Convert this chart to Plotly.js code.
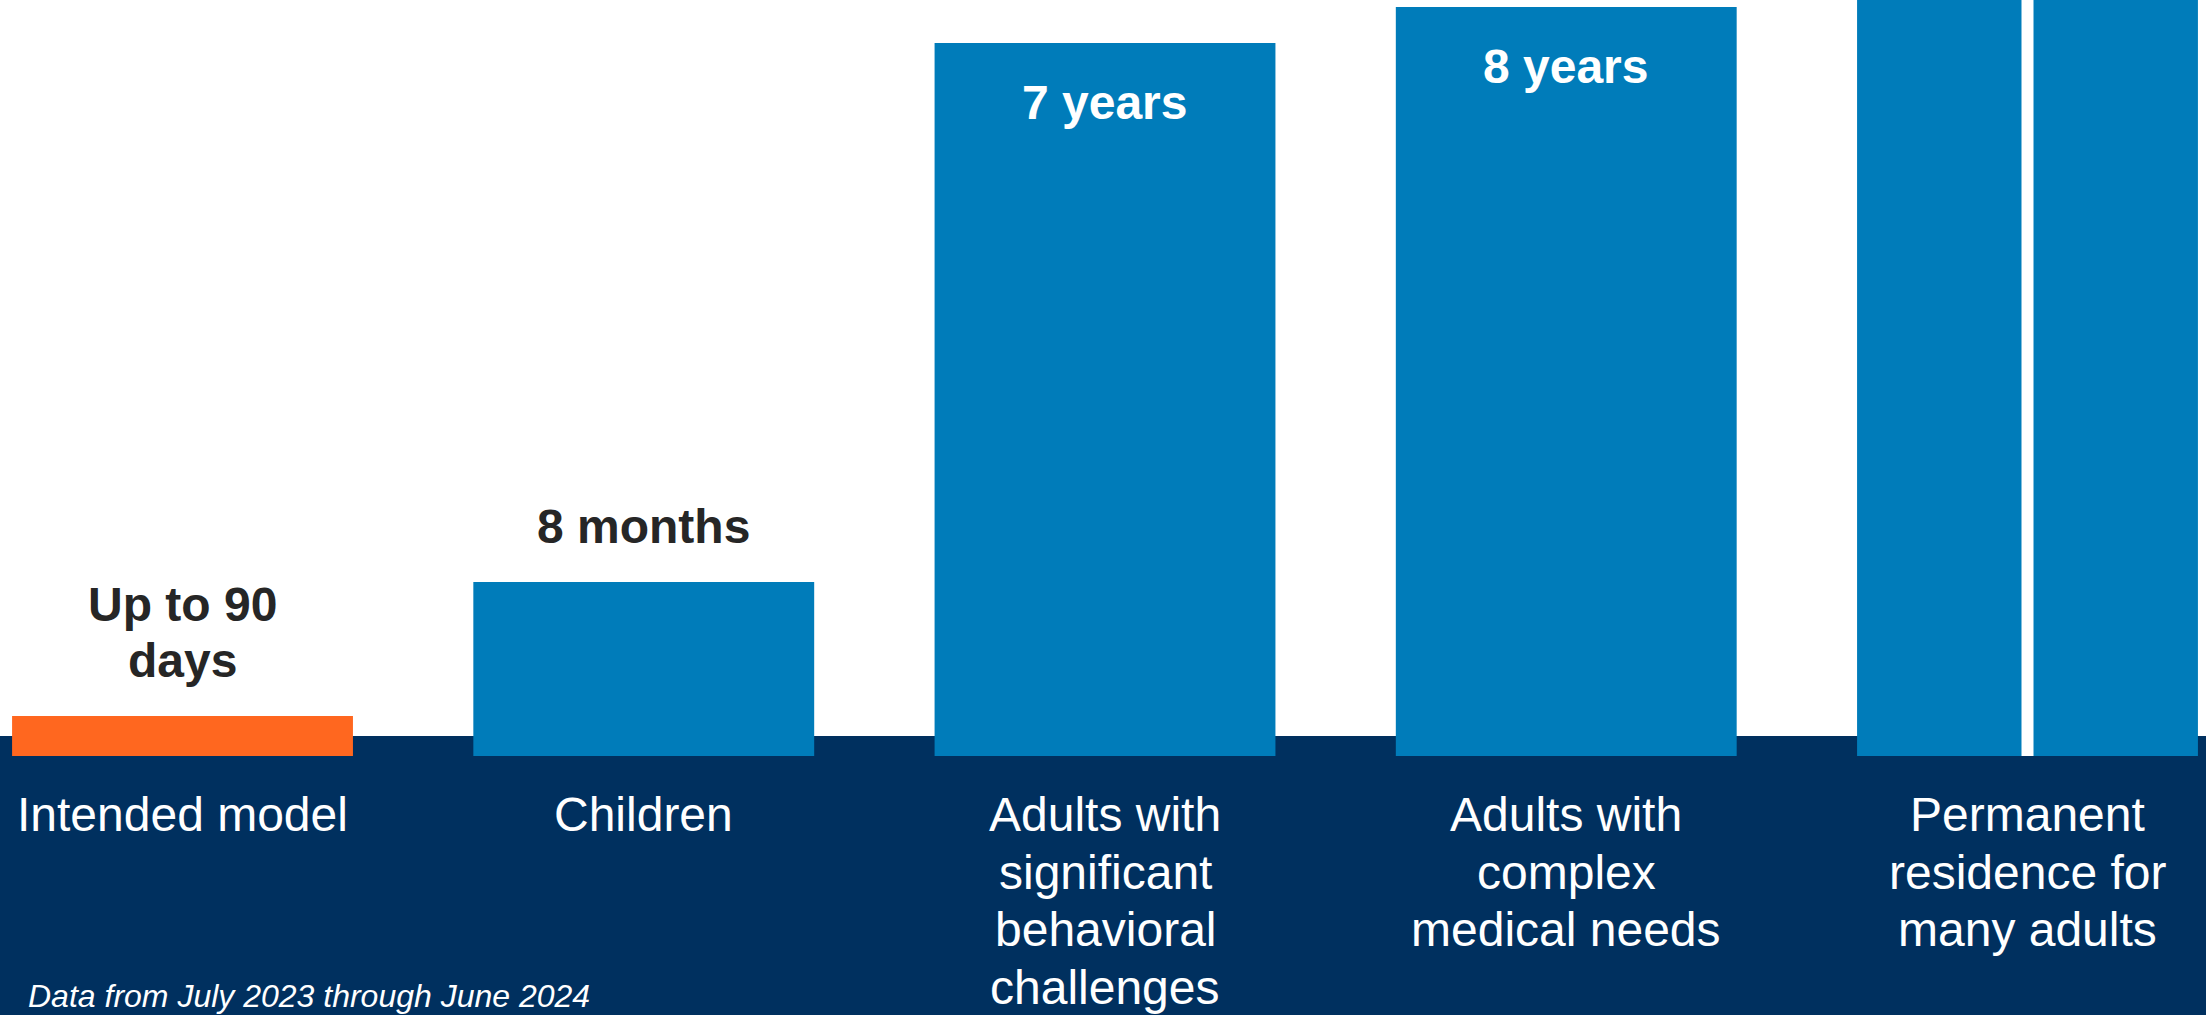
<!DOCTYPE html>
<html>
<head>
<meta charset="utf-8">
<script src="https://cdn.plot.ly/plotly-3.0.1.min.js"></script>
<style>
  html, body { margin: 0; padding: 0; background: #ffffff; }
  #chart { width: 2206px; height: 1015px; }
</style>
</head>
<body>
<div id="chart"></div>
<script>
// ---- data ----
const categories = [
  'Intended model',
  'Children',
  'Adults with<br>significant<br>behavioral<br>challenges',
  'Adults with<br>complex<br>medical needs',
  'Permanent<br>residence for<br>many adults'
];
// illustrative bar heights (the picture is not to scale; last bar runs off the top)
const barHeights = [40, 174, 713, 749, 800];
const valueLabels = ['Up to 90<br>days', '8 months', '7 years', '8 years', ''];
const labelInside = [false, false, true, true, false];
const barColors = ['#FF671F', '#007CBA', '#007CBA', '#007CBA', '#007CBA'];
const brokenBar = 'Permanent<br>residence for<br>many adults';
const footnote = 'Data from July 2023 through June 2024';

// ---- styles ----
const FONT = 'Liberation Sans, Arial, Helvetica, sans-serif';
const NAVY = '#00305F';
const DARK = '#262626';
const LINE_GAP_VALUE = 56;
const LINE_GAP_CAT = 57.5;

const annotations = [];

// value labels
categories.forEach((cat, i) => {
  const txt = valueLabels[i];
  if (!txt) return;
  const lines = txt.split('<br>');
  lines.forEach((ln, j) => {
    if (labelInside[i]) {
      annotations.push({
        x: cat, y: barHeights[i], xref: 'x', yref: 'y',
        text: ln, showarrow: false, xanchor: 'center', yanchor: 'top',
        yshift: -31 - j * LINE_GAP_VALUE,
        font: { family: FONT, size: 48, color: '#ffffff', weight: 'bold' }
      });
    } else {
      annotations.push({
        x: cat, y: barHeights[i], xref: 'x', yref: 'y',
        text: ln, showarrow: false, xanchor: 'center', yanchor: 'bottom',
        yshift: 27 + (lines.length - 1 - j) * LINE_GAP_VALUE,
        font: { family: FONT, size: 48, color: DARK, weight: 'bold' }
      });
    }
  });
});

// category labels (drawn line by line)
categories.forEach((cat) => {
  cat.split('<br>').forEach((ln, j) => {
    annotations.push({
      x: cat, y: 0, xref: 'x', yref: 'y',
      text: ln, showarrow: false, xanchor: 'center', yanchor: 'top',
      yshift: -30 - j * LINE_GAP_CAT,
      font: { family: FONT, size: 48, color: '#ffffff' }
    });
  });
});

// footnote
annotations.push({
  x: 26 / 2206, y: (756 - 976) / 756, xref: 'paper', yref: 'paper',
  text: '<i>' + footnote + '</i>', showarrow: false,
  xanchor: 'left', yanchor: 'top',
  font: { family: FONT, size: 32, color: '#ffffff' }
});

const trace = {
  type: 'bar',
  x: categories,
  y: barHeights,
  marker: { color: barColors, line: { width: 0 } },
  hoverinfo: 'skip'
};

const layout = {
  width: 2206,
  height: 1015,
  margin: { l: 0, r: 0, t: 0, b: 259, pad: 0 },
  paper_bgcolor: '#ffffff',
  plot_bgcolor: '#ffffff',
  showlegend: false,
  bargap: 0.261,
  xaxis: {
    type: 'category',
    categoryorder: 'array',
    categoryarray: categories,
    range: [-0.3957, 4.387],
    showticklabels: false, showgrid: false, zeroline: false, showline: false, ticks: '',
    fixedrange: true
  },
  yaxis: {
    range: [0, 756],
    showticklabels: false, showgrid: false, zeroline: false, showline: false, ticks: '',
    fixedrange: true
  },
  shapes: [
    {
      type: 'rect', xref: 'paper', yref: 'paper', layer: 'below',
      x0: 0, x1: 1, y0: (756 - 1020) / 756, y1: (756 - 736) / 756,
      fillcolor: NAVY, line: { width: 0 }
    },
    {
      type: 'line', xref: 'x', yref: 'y', layer: 'above',
      x0: brokenBar, x1: brokenBar, y0: 0, y1: barHeights[categories.indexOf(brokenBar)],
      line: { color: '#ffffff', width: 12 }
    }
  ],
  annotations: annotations
};

Plotly.newPlot('chart', [trace], layout, { displayModeBar: false, staticPlot: true });
</script>
</body>
</html>
